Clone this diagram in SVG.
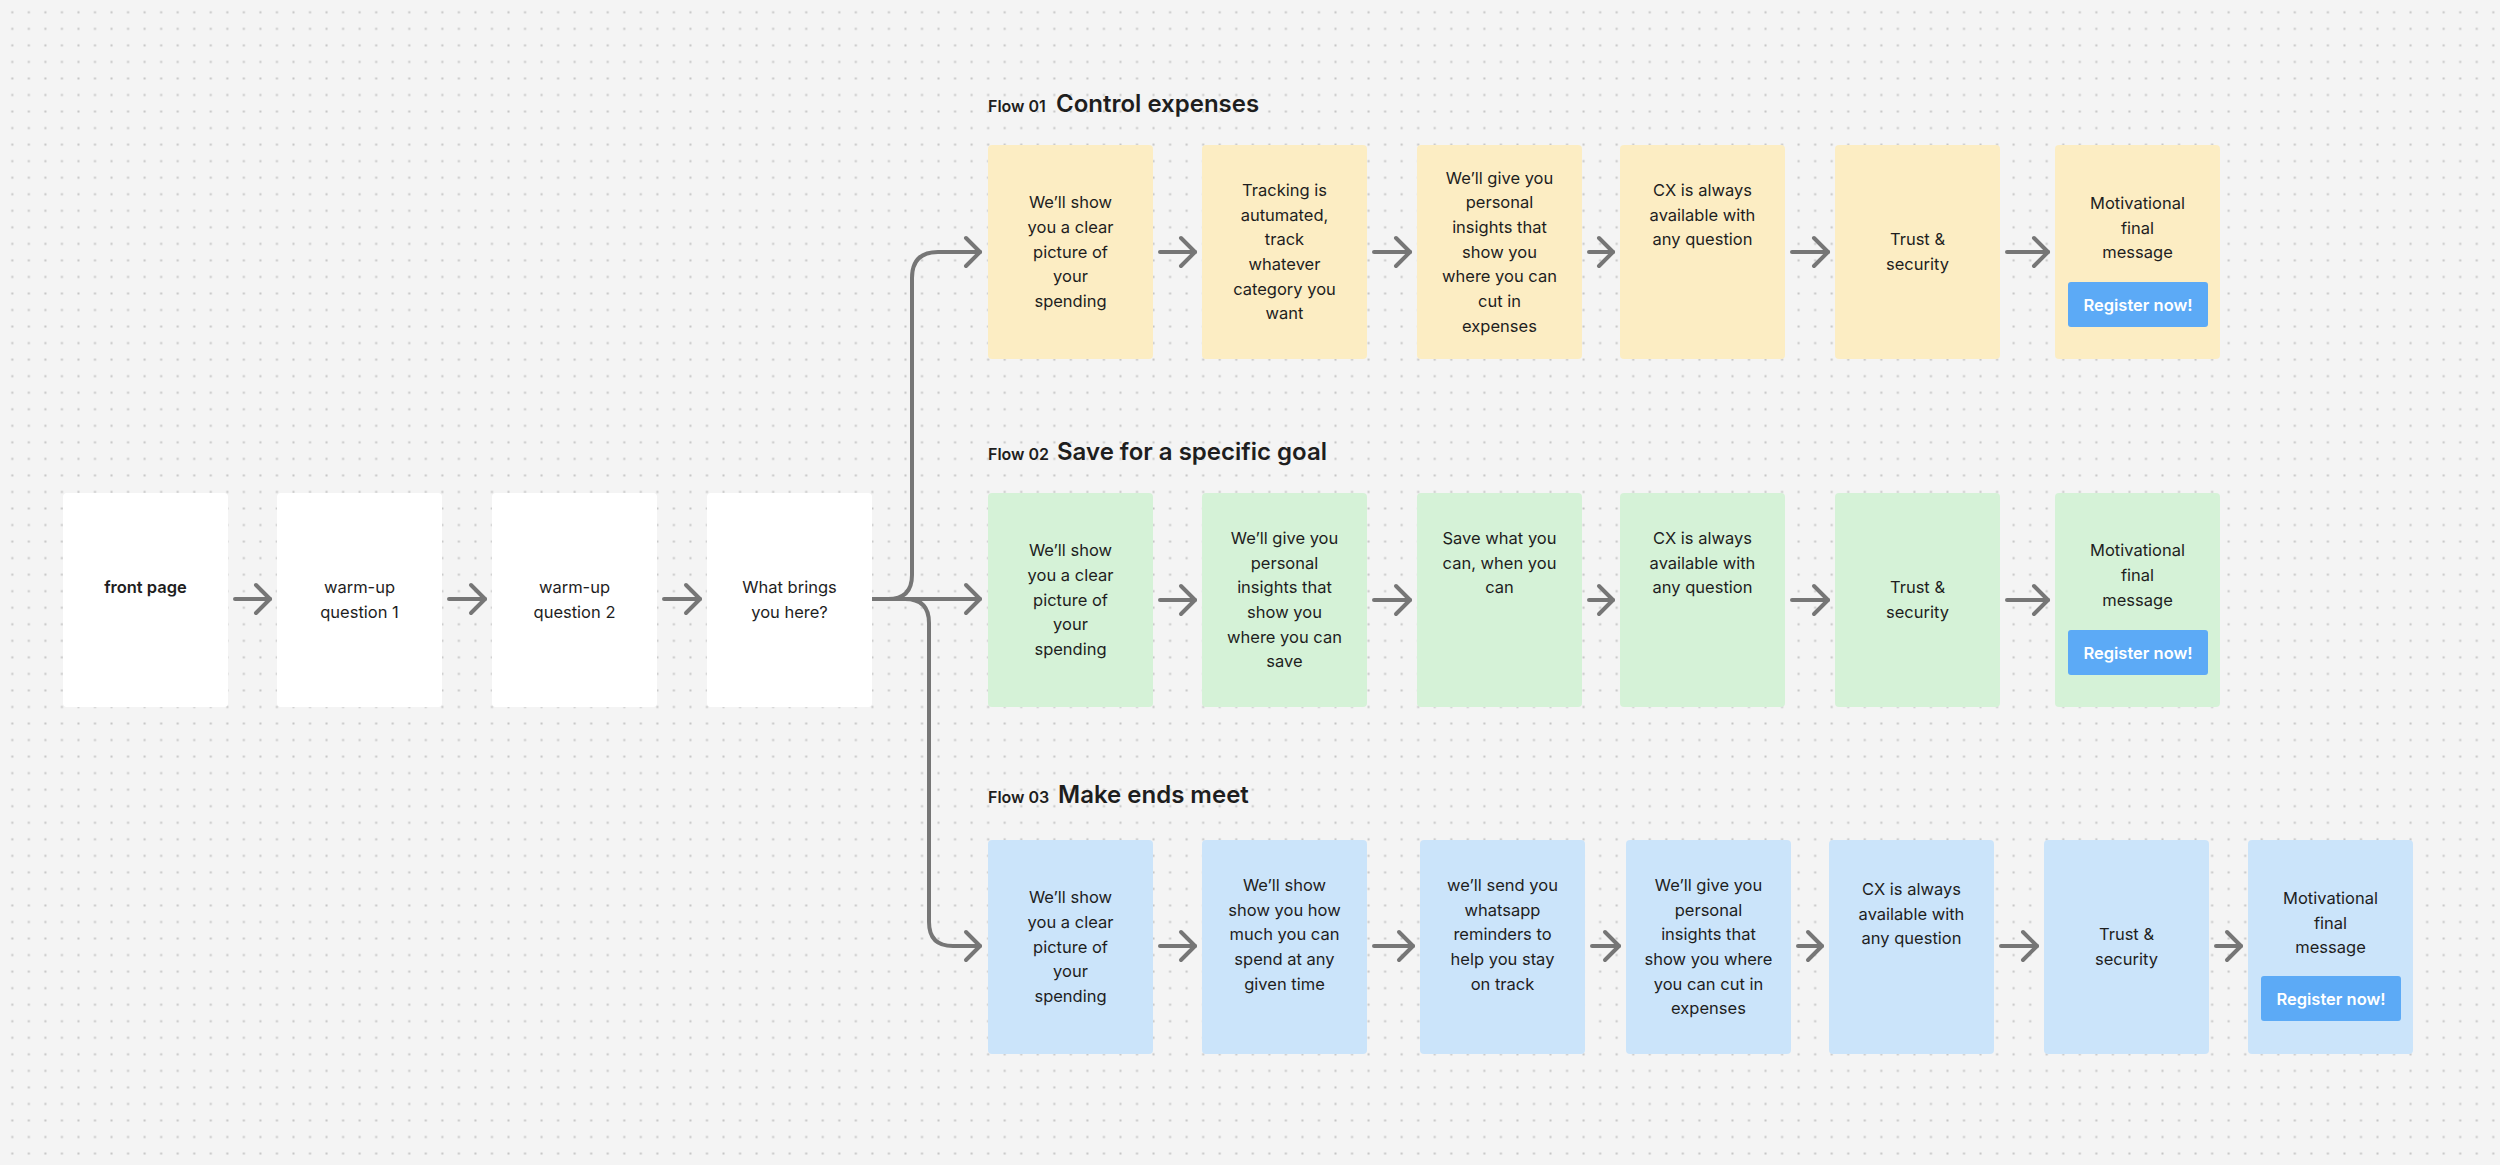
<svg xmlns="http://www.w3.org/2000/svg" width="2500" height="1165" viewBox="0 0 2500 1165">
<defs>
<pattern id="dots" x="4.03" y="4.03" width="16.54" height="16.54" patternUnits="userSpaceOnUse">
<rect x="7.27" y="7.27" width="2" height="2" fill="#c4c4c4"/>
</pattern>
<marker id="arr" markerUnits="userSpaceOnUse" markerWidth="30" markerHeight="40" refX="18" refY="20" orient="auto" overflow="visible">
<path d="M4 6 L18 20 L4 34" fill="none" stroke="#767676" stroke-width="4" stroke-linecap="round" stroke-linejoin="round"/>
</marker>
<style>
.t{font-family:Inter,"Noto Sans","Liberation Sans",sans-serif;font-size:16.5px;fill:#1e1e1e;text-anchor:middle}
.b{font-weight:600}
.w{fill:#ffffff}
.y{fill:#fcedc3}
.g{fill:#d5f2d7}
.l{fill:#cbe4fa}
.btn{fill:#5caaf6}
.bt{font-family:Inter,"Noto Sans","Liberation Sans",sans-serif;font-size:16.5px;font-weight:600;fill:#ffffff;text-anchor:middle}
.h1{font-family:Inter,"Noto Sans","Liberation Sans",sans-serif;font-size:16px;font-weight:600;fill:#1e1e1e}
.h2{font-family:Inter,"Noto Sans","Liberation Sans",sans-serif;font-size:24px;font-weight:600;fill:#1e1e1e}
.c{fill:none;stroke:#767676;stroke-width:4;stroke-linecap:round;stroke-linejoin:round;marker-end:url(#arr)}
</style>
</defs>
<rect width="2500" height="1165" fill="#f4f4f4"/>
<rect width="2500" height="1165" fill="url(#dots)"/>

<g id="titles">
<text class="h1" x="988" y="112">Flow 01</text><text class="h2" x="1056" y="112">Control expenses</text>
<text class="h1" x="988" y="460">Flow 02</text><text class="h2" x="1057" y="460">Save for a specific goal</text>
<text class="h1" x="988" y="803">Flow 03</text><text class="h2" x="1058" y="803">Make ends meet</text>
</g>

<g id="connectors">
<path class="c" d="M235 599 H270"/>
<path class="c" d="M449 599 H485"/>
<path class="c" d="M664 599 H700"/>
<path class="c" d="M871 599 H888 Q912 599 912 575 V278 Q912 252 938 252 H980"/>
<path class="c" d="M871 599 H980"/>
<path class="c" d="M871 599 H905 Q929 599 929 623 V922 Q929 946 953 946 H980"/>
<path class="c" d="M1160 252 H1195"/>
<path class="c" d="M1374 252 H1410"/>
<path class="c" d="M1589 252 H1613"/>
<path class="c" d="M1792 252 H1828"/>
<path class="c" d="M2007 252 H2048"/>
<path class="c" d="M1160 600 H1195"/>
<path class="c" d="M1374 600 H1410"/>
<path class="c" d="M1589 600 H1613"/>
<path class="c" d="M1792 600 H1828"/>
<path class="c" d="M2007 600 H2048"/>
<path class="c" d="M1160 946 H1195"/>
<path class="c" d="M1374 946 H1413"/>
<path class="c" d="M1592 946 H1619"/>
<path class="c" d="M1798 946 H1822"/>
<path class="c" d="M2001 946 H2037"/>
<path class="c" d="M2216 946 H2241"/>
</g>

<g id="front-page"><rect class="w" x="63" y="493" width="165" height="214" rx="4"/>
<text class="t b" x="145.5" y="593.2">front page</text></g>
<g id="warm-up-1"><rect class="w" x="277" y="493" width="165" height="214" rx="4"/>
<text class="t" x="359.5" y="593.2">warm-up<tspan x="359.5" dy="24.7">question 1</tspan></text></g>
<g id="warm-up-2"><rect class="w" x="492" y="493" width="165" height="214" rx="4"/>
<text class="t" x="574.5" y="593.2">warm-up<tspan x="574.5" dy="24.7">question 2</tspan></text></g>
<g id="what-brings"><rect class="w" x="707" y="493" width="165" height="214" rx="4"/>
<text class="t" x="789.5" y="593.2">What brings<tspan x="789.5" dy="24.7">you here?</tspan></text></g>

<g id="f1-n1"><rect class="y" x="988" y="145" width="165" height="214" rx="4"/>
<text class="t" x="1070.5" y="208.1">We’ll show<tspan x="1070.5" dy="24.7">you a clear</tspan><tspan x="1070.5" dy="24.7">picture of</tspan><tspan x="1070.5" dy="24.7">your</tspan><tspan x="1070.5" dy="24.7">spending</tspan></text></g>
<g id="f1-n2"><rect class="y" x="1202" y="145" width="165" height="214" rx="4"/>
<text class="t" x="1284.5" y="195.8">Tracking is<tspan x="1284.5" dy="24.7">autumated,</tspan><tspan x="1284.5" dy="24.7">track</tspan><tspan x="1284.5" dy="24.7">whatever</tspan><tspan x="1284.5" dy="24.7">category you</tspan><tspan x="1284.5" dy="24.7">want</tspan></text></g>
<g id="f1-n3"><rect class="y" x="1417" y="145" width="165" height="214" rx="4"/>
<text class="t" x="1499.5" y="183.5">We’ll give you<tspan x="1499.5" dy="24.7">personal</tspan><tspan x="1499.5" dy="24.7">insights that</tspan><tspan x="1499.5" dy="24.7">show you</tspan><tspan x="1499.5" dy="24.7">where you can</tspan><tspan x="1499.5" dy="24.7">cut in</tspan><tspan x="1499.5" dy="24.7">expenses</tspan></text></g>
<g id="f1-n4"><rect class="y" x="1620" y="145" width="165" height="214" rx="4"/>
<text class="t" x="1702.5" y="195.8">CX is always<tspan x="1702.5" dy="24.7">available with</tspan><tspan x="1702.5" dy="24.7">any question</tspan></text></g>
<g id="f1-n5"><rect class="y" x="1835" y="145" width="165" height="214" rx="4"/>
<text class="t" x="1917.5" y="245.2">Trust &amp;<tspan x="1917.5" dy="24.7">security</tspan></text></g>
<g id="f1-n6"><rect class="y" x="2055" y="145" width="165" height="214" rx="4"/>
<text class="t" x="2137.5" y="208.8">Motivational<tspan x="2137.5" dy="24.7">final</tspan><tspan x="2137.5" dy="24.7">message</tspan></text>
<rect class="btn" x="2068" y="282" width="140" height="45" rx="3"/>
<text class="bt" x="2138" y="310.5">Register now!</text></g>

<g id="f2-n1"><rect class="g" x="988" y="493" width="165" height="214" rx="4"/>
<text class="t" x="1070.5" y="556.1">We’ll show<tspan x="1070.5" dy="24.7">you a clear</tspan><tspan x="1070.5" dy="24.7">picture of</tspan><tspan x="1070.5" dy="24.7">your</tspan><tspan x="1070.5" dy="24.7">spending</tspan></text></g>
<g id="f2-n2"><rect class="g" x="1202" y="493" width="165" height="214" rx="4"/>
<text class="t" x="1284.5" y="543.8">We’ll give you<tspan x="1284.5" dy="24.7">personal</tspan><tspan x="1284.5" dy="24.7">insights that</tspan><tspan x="1284.5" dy="24.7">show you</tspan><tspan x="1284.5" dy="24.7">where you can</tspan><tspan x="1284.5" dy="24.7">save</tspan></text></g>
<g id="f2-n3"><rect class="g" x="1417" y="493" width="165" height="214" rx="4"/>
<text class="t" x="1499.5" y="543.8">Save what you<tspan x="1499.5" dy="24.7">can, when you</tspan><tspan x="1499.5" dy="24.7">can</tspan></text></g>
<g id="f2-n4"><rect class="g" x="1620" y="493" width="165" height="214" rx="4"/>
<text class="t" x="1702.5" y="543.8">CX is always<tspan x="1702.5" dy="24.7">available with</tspan><tspan x="1702.5" dy="24.7">any question</tspan></text></g>
<g id="f2-n5"><rect class="g" x="1835" y="493" width="165" height="214" rx="4"/>
<text class="t" x="1917.5" y="593.2">Trust &amp;<tspan x="1917.5" dy="24.7">security</tspan></text></g>
<g id="f2-n6"><rect class="g" x="2055" y="493" width="165" height="214" rx="4"/>
<text class="t" x="2137.5" y="556.1">Motivational<tspan x="2137.5" dy="24.7">final</tspan><tspan x="2137.5" dy="24.7">message</tspan></text>
<rect class="btn" x="2068" y="630" width="140" height="45" rx="3"/>
<text class="bt" x="2138" y="658.5">Register now!</text></g>

<g id="f3-n1"><rect class="l" x="988" y="840" width="165" height="214" rx="4"/>
<text class="t" x="1070.5" y="903.1">We’ll show<tspan x="1070.5" dy="24.7">you a clear</tspan><tspan x="1070.5" dy="24.7">picture of</tspan><tspan x="1070.5" dy="24.7">your</tspan><tspan x="1070.5" dy="24.7">spending</tspan></text></g>
<g id="f3-n2"><rect class="l" x="1202" y="840" width="165" height="214" rx="4"/>
<text class="t" x="1284.5" y="890.8">We’ll show<tspan x="1284.5" dy="24.7">show you how</tspan><tspan x="1284.5" dy="24.7">much you can</tspan><tspan x="1284.5" dy="24.7">spend at any</tspan><tspan x="1284.5" dy="24.7">given time</tspan></text></g>
<g id="f3-n3"><rect class="l" x="1420" y="840" width="165" height="214" rx="4"/>
<text class="t" x="1502.5" y="890.8">we’ll send you<tspan x="1502.5" dy="24.7">whatsapp</tspan><tspan x="1502.5" dy="24.7">reminders to</tspan><tspan x="1502.5" dy="24.7">help you stay</tspan><tspan x="1502.5" dy="24.7">on track</tspan></text></g>
<g id="f3-n4"><rect class="l" x="1626" y="840" width="165" height="214" rx="4"/>
<text class="t" x="1708.5" y="890.8">We’ll give you<tspan x="1708.5" dy="24.7">personal</tspan><tspan x="1708.5" dy="24.7">insights that</tspan><tspan x="1708.5" dy="24.7">show you where</tspan><tspan x="1708.5" dy="24.7">you can cut in</tspan><tspan x="1708.5" dy="24.7">expenses</tspan></text></g>
<g id="f3-n5"><rect class="l" x="1829" y="840" width="165" height="214" rx="4"/>
<text class="t" x="1911.5" y="895">CX is always<tspan x="1911.5" dy="24.7">available with</tspan><tspan x="1911.5" dy="24.7">any question</tspan></text></g>
<g id="f3-n6"><rect class="l" x="2044" y="840" width="165" height="214" rx="4"/>
<text class="t" x="2126.5" y="940.2">Trust &amp;<tspan x="2126.5" dy="24.7">security</tspan></text></g>
<g id="f3-n7"><rect class="l" x="2248" y="840" width="165" height="214" rx="4"/>
<text class="t" x="2330.5" y="903.8">Motivational<tspan x="2330.5" dy="24.7">final</tspan><tspan x="2330.5" dy="24.7">message</tspan></text>
<rect class="btn" x="2261" y="976" width="140" height="45" rx="3"/>
<text class="bt" x="2331" y="1004.5">Register now!</text></g>
</svg>
